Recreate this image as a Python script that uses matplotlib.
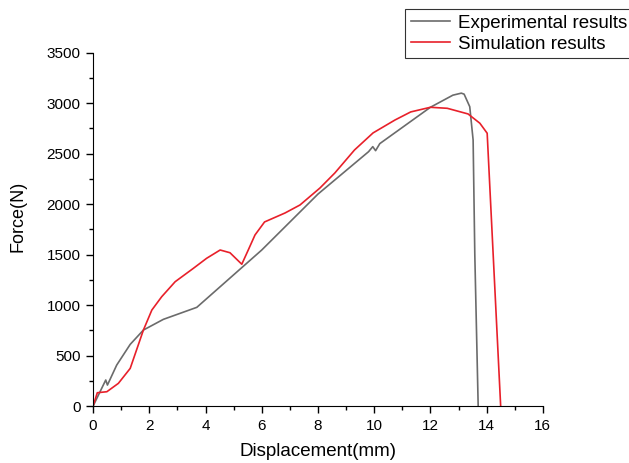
import matplotlib
matplotlib.use("Agg")
from matplotlib import pyplot as plt
from matplotlib.ticker import MultipleLocator

plt.rcParams['font.family'] = ['Liberation Sans', 'DejaVu Sans']

exp_x = [0, 0.45, 0.51, 0.84, 1.32, 1.79, 2.5, 3.69, 6.0, 8.0, 9.8, 9.95, 10.05, 10.2,
         11.0, 12.0, 12.8, 13.1, 13.2, 13.4, 13.52, 13.58, 13.7]
exp_y = [0, 258, 208, 406, 611, 753, 859, 978, 1546, 2100, 2520, 2570, 2530, 2600,
         2760, 2960, 3080, 3100, 3090, 2966, 2636, 1500, 0]

# Courbe de simulation
sim_x = [0, 0.15, 0.49, 0.9, 1.32, 1.79, 2.09, 2.44, 2.92, 3.57, 4.04, 4.52, 4.87, 5.29,
         5.52, 5.76, 6.1, 6.83, 7.36, 8.07, 8.6, 9.3, 9.96, 10.74, 11.3, 12.0, 12.6,
         13.34, 13.76, 14.02, 14.5]
sim_y = [0, 132, 142, 225, 373, 753, 951, 1083, 1232, 1365, 1464, 1546, 1519, 1405,
         1546, 1695, 1824, 1913, 1992, 2160, 2309, 2537, 2706, 2834, 2914, 2960, 2950,
         2894, 2802, 2703, 0]

fig = plt.figure(figsize=(6.29, 4.63), dpi=100)
ax = fig.add_axes([0.148, 0.123, 0.715, 0.763])

ax.plot(exp_x, exp_y, color='#6b6b6b', lw=1.2, label='Experimental results')
ax.plot(sim_x, sim_y, color='#e8202a', lw=1.2, label='Simulation results')

ax.set_xlim(0, 16)
ax.set_ylim(0, 3500)
ax.xaxis.set_major_locator(MultipleLocator(2))
ax.xaxis.set_minor_locator(MultipleLocator(1))
ax.yaxis.set_major_locator(MultipleLocator(500))
ax.yaxis.set_minor_locator(MultipleLocator(250))
ax.spines['top'].set_visible(False)
ax.spines['right'].set_visible(False)
ax.tick_params(which='major', direction='out', length=5, width=1, labelsize=11, pad=4)
ax.tick_params(which='minor', direction='out', length=3, width=1)
ax.set_xlabel('Displacement(mm)', fontsize=13.5)
ax.set_ylabel('Force(N)', fontsize=13)
ax.xaxis.set_label_coords(0.501, -0.105)
ax.yaxis.set_label_coords(-0.147, 0.538)

# Legende en haut a droite, qui deborde du cadre comme sur l'original
leg = fig.legend(loc='upper left', bbox_to_anchor=(405 / 629, 1 - 9 / 463), fontsize=13.5,
                 frameon=True, fancybox=False, handlelength=2.1, borderpad=0.3,
                 labelspacing=0.2, handletextpad=0.4, borderaxespad=0)
leg.get_frame().set_edgecolor('black')
leg.get_frame().set_linewidth(0.8)

plt.savefig('out.png', dpi=100)
